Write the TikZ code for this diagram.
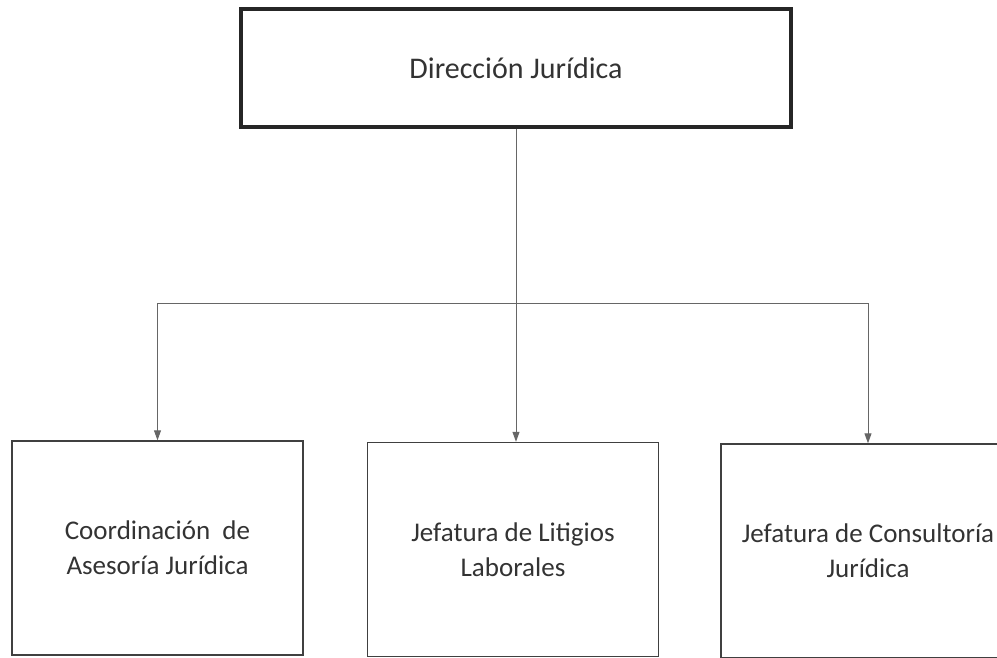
\documentclass[tikz,border=0pt]{standalone}
\usepackage{fontspec}
\setmainfont{Carlito}
\usetikzlibrary{arrows.meta}

\tikzset{
  unidad/.style={draw=black!75, line width=1.4pt, minimum width=291pt, minimum height=214pt,
    align=center, text=black!80, font=\fontsize{27}{35}\selectfont},
  direccion/.style={draw=black!85, line width=3.5pt, minimum width=550pt, minimum height=118pt,
    text=black!80, font=\fontsize{30}{33}\selectfont},
  enlace/.style={draw=black!60, line width=1pt},
  flecha/.style={enlace, -{Triangle[length=10pt,width=7pt]}}
}

\begin{document}
\begin{tikzpicture}[x=1pt,y=-1pt]
        \clip (0,0) rectangle (997,658);
        \fill[white] (0,0) rectangle (997,658);

        \node[direccion] (dir) at (516,68) {Dirección Jurídica};

        \node[unidad] (coord) at (157.5,548) {Coordinación\ \ de\\Asesoría Jurídica};
        \node[unidad] (litig) at (513,549.5) {Jefatura de Litigios\\Laborales};
        \node[unidad, minimum width=294pt] (consul) at (868,551) {Jefatura de Consultoría\\Jurídica};

        \coordinate (split) at (516,303);

        \draw[enlace] (dir.south) -- (split);
        \draw[flecha] (split) -| (coord.north);
        \draw[flecha] (split) -| (consul.north);
        \draw[flecha] (split) -- (split |- litig.north);
    \end{tikzpicture}
\end{document}
